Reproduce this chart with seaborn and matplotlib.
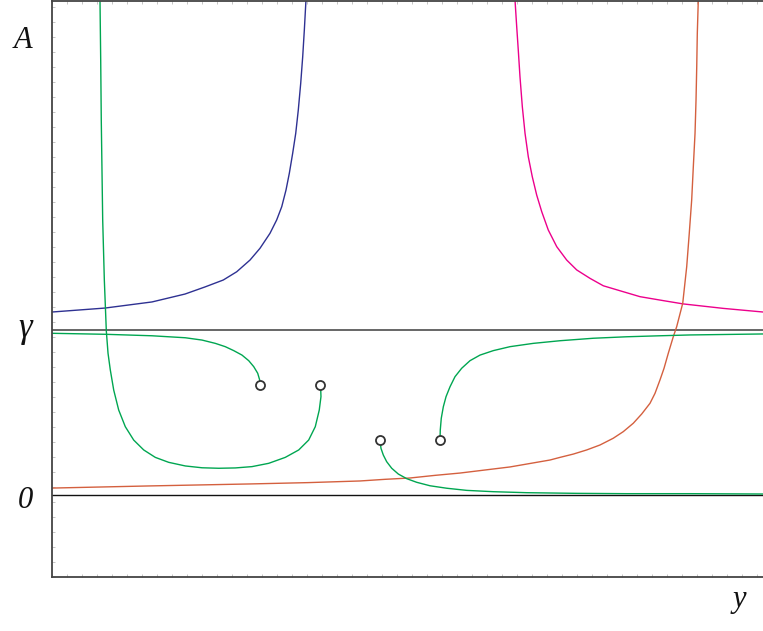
import matplotlib
matplotlib.use("Agg")
import matplotlib.pyplot as plt
import seaborn as sns
import numpy as np

# curve samples (x in 0..10, y: 0 -> "0" line, 1 -> gamma line)
blue_x = [0.0, 0.745, 1.406, 1.871, 2.152, 2.409, 2.598, 2.785, 2.925, 3.066, 3.160, 3.231,
          3.291, 3.338, 3.385, 3.428, 3.464, 3.498, 3.526, 3.549, 3.572]
blue_y = [1.109, 1.133, 1.170, 1.218, 1.261, 1.303, 1.353, 1.424, 1.495, 1.586, 1.667, 1.747,
          1.848, 1.950, 2.071, 2.192, 2.333, 2.495, 2.656, 2.818, 3.0]

magenta_x = [6.512, 6.536, 6.558, 6.582, 6.615, 6.653, 6.699, 6.755, 6.817, 6.888, 6.980,
             7.099, 7.239, 7.380, 7.567, 7.754, 8.035, 8.270, 8.598, 8.879, 9.442, 10.0]
magenta_y = [3.0, 2.838, 2.697, 2.535, 2.353, 2.192, 2.050, 1.929, 1.818, 1.717, 1.606,
             1.505, 1.424, 1.364, 1.313, 1.268, 1.232, 1.202, 1.178, 1.158, 1.131, 1.109]

orange_x = [0.0, 1.378, 2.785, 3.600, 4.332, 4.684, 5.035, 5.387, 5.738, 6.442, 7.004, 7.145,
            7.332, 7.520, 7.707, 7.894, 8.035, 8.176, 8.294, 8.411, 8.481, 8.551, 8.608,
            8.668, 8.738, 8.786, 8.871, 8.927, 8.963, 8.997, 9.020, 9.044, 9.058, 9.068,
            9.076, 9.090]
orange_y = [0.042, 0.055, 0.067, 0.075, 0.085, 0.095, 0.103, 0.119, 0.133, 0.170, 0.212, 0.228,
            0.248, 0.273, 0.303, 0.344, 0.384, 0.435, 0.491, 0.556, 0.616, 0.697, 0.768,
            0.859, 0.959, 1.020, 1.162, 1.384, 1.586, 1.788, 1.990, 2.192, 2.394, 2.596,
            2.798, 3.0]

green_a_x = [0.0, 0.750, 1.406, 1.875, 2.110, 2.297, 2.437, 2.556, 2.672, 2.767, 2.837,
             2.893, 2.921, 2.930, 2.925]
green_a_y = [0.980, 0.974, 0.965, 0.953, 0.939, 0.919, 0.899, 0.875, 0.848, 0.814, 0.778,
             0.738, 0.697, 0.677, 0.667]

green_b_x = [0.675, 0.685, 0.693, 0.713, 0.736, 0.764, 0.788, 0.820, 0.868, 0.938, 1.031,
             1.149, 1.290, 1.453, 1.641, 1.875, 2.110, 2.345, 2.578, 2.813, 3.048, 3.281,
             3.470, 3.610, 3.703, 3.759, 3.783, 3.779, 3.769]
green_b_y = [3.0, 2.636, 2.273, 1.667, 1.303, 0.994, 0.859, 0.758, 0.636, 0.515, 0.414,
             0.333, 0.273, 0.228, 0.198, 0.176, 0.165, 0.162, 0.164, 0.172, 0.192, 0.228,
             0.273, 0.333, 0.414, 0.515, 0.596, 0.647, 0.667]

green_c_x = [4.613, 4.627, 4.660, 4.707, 4.778, 4.871, 4.989, 5.129, 5.316, 5.551, 5.833,
             6.207, 6.676, 7.380, 8.083, 8.973, 10.0]
green_c_y = [0.333, 0.283, 0.242, 0.202, 0.162, 0.127, 0.099, 0.077, 0.056, 0.041, 0.028,
             0.020, 0.014, 0.010, 0.008, 0.008, 0.006]

green_d_x = [5.457, 5.461, 5.475, 5.504, 5.542, 5.598, 5.668, 5.762, 5.879, 6.020, 6.207,
             6.442, 6.769, 7.145, 7.613, 8.083, 8.551, 8.973, 10.0]
green_d_y = [0.333, 0.394, 0.465, 0.535, 0.596, 0.656, 0.717, 0.768, 0.814, 0.848, 0.875,
             0.899, 0.919, 0.935, 0.950, 0.959, 0.965, 0.970, 0.976]

end_x = [2.925, 3.769, 4.613, 5.457]
end_y = [0.667, 0.667, 0.333, 0.333]

sns.set_style("white")
fig = plt.figure(figsize=(7.63, 6.31), dpi=100)
ax = fig.add_axes([52 / 763, 54 / 631, 711 / 763, 576 / 631])

curves = [
    (blue_x, blue_y, "#2E3192"),
    (magenta_x, magenta_y, "#EC008C"),
    (orange_x, orange_y, "#D4603F"),
    (green_a_x, green_a_y, "#00A651"),
    (green_b_x, green_b_y, "#00A651"),
    (green_c_x, green_c_y, "#00A651"),
    (green_d_x, green_d_y, "#00A651"),
]
for cx, cy, col in curves:
    sns.lineplot(x=cx, y=cy, sort=False, estimator=None, color=col, linewidth=1.0, ax=ax)

ax.axhline(1.0, color="#666666", linewidth=1.4, zorder=1)
ax.axhline(0.0, color="#111111", linewidth=1.0, zorder=1)

ax.plot(end_x, end_y, linestyle="none", marker="o", markersize=6.5,
        markerfacecolor="white", markeredgecolor="#333333", markeredgewidth=1.3, zorder=5)

ax.set_xlim(0, 10)
ax.set_ylim(-0.497, 2.994)

ax.set_xticks(np.arange(0, 10, 10 * 15 / 711))
ax.set_yticks(np.arange(-0.497, 2.994, 15 / 165))
ax.tick_params(direction="in", length=2.5, width=0.6, color="#bbbbbb",
               top=True, bottom=True, left=True, right=False,
               labelbottom=False, labelleft=False)
for side in ["left", "top", "bottom"]:
    ax.spines[side].set_color("#444444")
    ax.spines[side].set_linewidth(1.3)
ax.spines["right"].set_visible(False)
ax.set_xlabel("")
ax.set_ylabel("")

font = dict(family=["Liberation Serif", "DejaVu Serif"], style="italic", fontsize=22,
            ha="center", va="baseline", color="#111111")
fig.text(23 / 763, 1 - 48 / 631, "A", **font)
fig.text(25 / 763, 1 - 337 / 631, "γ", **dict(font, fontsize=25))
fig.text(25 / 763, 1 - 508 / 631, "0", **font)
fig.text(739 / 763, 1 - 607 / 631, "y", **font)

fig.savefig("out.png", dpi=100)
